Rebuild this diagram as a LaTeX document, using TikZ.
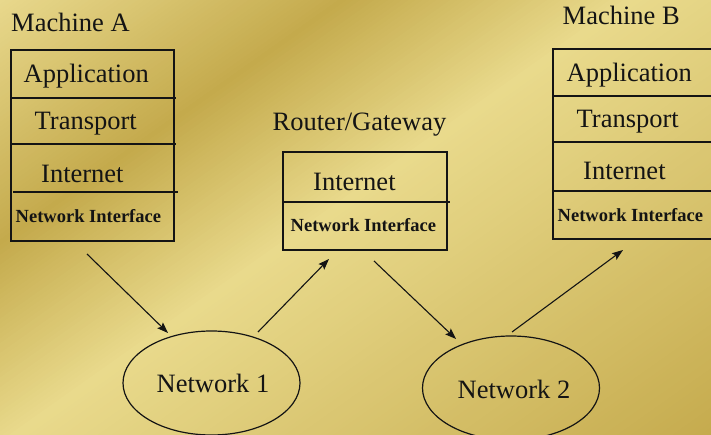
\documentclass[tikz,border=0pt]{standalone}
\usepackage{fontspec}
\setmainfont{Liberation Serif}
\usetikzlibrary{arrows.meta,shapes.geometric}
\definecolor{bgA}{HTML}{E8D88C}
\definecolor{bgB}{HTML}{C4AA4C}
\definecolor{bgC}{HTML}{E9DA8C}
\definecolor{bgD}{HTML}{C4A94B}
\definecolor{ink}{HTML}{141414}
\tikzset{
  lbl/.style={anchor=base west, inner sep=0pt, text=ink, font=\fontsize{26.5}{30}\selectfont},
  nif/.style={anchor=base west, inner sep=0pt, text=ink, font=\fontsize{18.5}{21}\selectfont\bfseries},
  boxline/.style={draw=ink, line width=1.2pt},
  link/.style={draw=ink, line width=1.1pt, -{Stealth[length=11pt,width=8pt,inset=2pt]}},
  net/.style={draw=ink, ellipse, line width=1.2pt, minimum width=177pt, minimum height=104pt, inner sep=0pt}
}
\begin{document}
\begin{tikzpicture}[x=1pt,y=-1pt]
\useasboundingbox (0,0) rectangle (711,435);
\begin{scope}
\clip (0,0) rectangle (711,435);
% background gradient in diagonal bands
\begin{scope}[rotate=-54.7]
\foreach \s in {0,4,...,196} {
  \pgfmathtruncatemacro\p{\s/1.96}
  \fill[bgB!\p!bgA] (\s,-700) rectangle (\s+4.8,700);
}
\foreach \s in {196,200,...,360} {
  \pgfmathtruncatemacro\p{(\s-196)/1.64}
  \fill[bgC!\p!bgB] (\s,-700) rectangle (\s+4.8,700);
}
\foreach \s in {360,364,...,800} {
  \pgfmathtruncatemacro\p{min(100,(\s-360)/4.2)}
  \fill[bgD!\p!bgC] (\s,-700) rectangle (\s+4.8,700);
}
\end{scope}

% Machine A
\node[lbl] (mA) at (11,32) {Machine A};
\draw[boxline] (11,50) rectangle (174,241);
\draw[boxline] (11,98) -- (176,98);
\draw[boxline] (11,144) -- (176,144);
\draw[boxline] (13,192) -- (178,192);
\node[lbl] (aApp) at (23.5,83) {Application};
\node[lbl] (aTr) at (34.5,130) {Transport};
\node[lbl] (aIn) at (41,183) {Internet};
\node[nif] (aNI) at (15.5,223) {Network Interface};

% Router
\node[lbl] (rG) at (272.5,131) {Router/Gateway};
\draw[boxline] (283,152) rectangle (447,250);
\draw[boxline] (283,202) -- (450,202);
\node[lbl] (rIn) at (313,191) {Internet};
\node[nif] (rNI) at (290.5,232) {Network Interface};

% Machine B
\node[lbl] (mB) at (562.5,25) {Machine B};
\draw[boxline] (730,49) -- (553,49) -- (553,239) -- (730,239);
\draw[boxline] (553,96) -- (730,96);
\draw[boxline] (553,142) -- (730,142);
\draw[boxline] (553,191) -- (730,191);
\node[lbl] (bApp) at (566.5,82) {Application};
\node[lbl] (bTr) at (576.5,128) {Transport};
\node[lbl] (bIn) at (583,180) {Internet};
\node[nif] (bNI) at (557.5,222) {Network Interface};

% Networks
\node[net] (n1) at (211.5,383) {};
\node[lbl] (n1t) at (156.5,392) {Network 1};
\node[net] (n2) at (511,388) {};
\node[lbl] (n2t) at (457.5,398) {Network 2};

% arrows
\coordinate (a1s) at (87,254);  \coordinate (a1e) at (168,333);
\coordinate (a2s) at (258,332); \coordinate (a2e) at (329,259);
\coordinate (a3s) at (374,261); \coordinate (a3e) at (456,339);
\coordinate (a4s) at (512,332); \coordinate (a4e) at (623,250);
\draw[link] (a1s) -- (a1e);
\draw[link] (a2s) -- (a2e);
\draw[link] (a3s) -- (a3e);
\draw[link] (a4s) -- (a4e);
\end{scope}
\end{tikzpicture}
\end{document}
